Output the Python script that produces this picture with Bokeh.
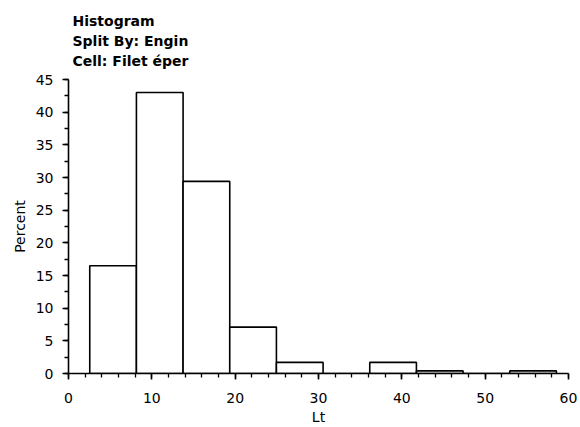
from bokeh.plotting import figure
from bokeh.models import Title, Range1d
from bokeh.embed import file_html
from bokeh.resources import INLINE

# Data
bin_left = [2.55, 8.15, 13.75, 19.35, 24.95, 30.55, 36.15, 41.75, 47.35, 52.95]
bin_right = [8.15, 13.75, 19.35, 24.95, 30.55, 36.15, 41.75, 47.35, 52.95, 58.55]
percent = [16.5, 43.0, 29.4, 7.1, 1.7, 0.0, 1.7, 0.4, 0.0, 0.4]
title_lines = ["Histogram", "Split By: Engin", "Cell: Filet éper"]
x_label = "Lt"
y_label = "Percent"

FONT = "DejaVu Sans"

p = figure(width=580, height=427, output_backend="svg", toolbar_location=None,
           x_range=Range1d(0, 60), y_range=Range1d(0, 45),
           min_border_left=68, min_border_right=12, min_border_top=79, min_border_bottom=53)
p.outline_line_color = None
p.grid.grid_line_color = None
p.background_fill_color = "white"
p.border_fill_color = "white"

p.quad(left=bin_left, right=bin_right, bottom=0, top=percent,
       fill_color="white", line_color="black", line_width=1.6)

for ax in (p.xaxis, p.yaxis):
    ax.axis_line_width = 1.6
    ax.axis_line_color = "black"
    ax.major_tick_line_width = 1.6
    ax.minor_tick_line_width = 1.3
    ax.major_tick_out = 6
    ax.major_tick_in = 0
    ax.minor_tick_out = 4
    ax.minor_tick_in = 0
    ax.major_label_text_font = FONT
    ax.major_label_text_font_size = "14px"
    ax.major_label_text_color = "black"
    ax.axis_label_text_font = FONT
    ax.axis_label_text_font_size = "14px"
    ax.axis_label_text_font_style = "normal"
    ax.axis_label_text_color = "black"

p.xaxis.ticker.desired_num_ticks = 6
p.xaxis.ticker.num_minor_ticks = 5
p.yaxis.ticker.desired_num_ticks = 9
p.yaxis.ticker.num_minor_ticks = 2
p.xaxis.axis_label = x_label
p.yaxis.axis_label = y_label
p.xaxis.major_label_standoff = 13
p.xaxis.axis_label_standoff = 3
p.yaxis.major_label_standoff = 9
p.yaxis.axis_label_standoff = 5

# small spacer between frame and the title block
p.add_layout(Title(text=" ", text_font_size="1px", standoff=7), "above")

# Title lines stacked above the frame (later added = further up)
for txt in reversed(title_lines):
    p.add_layout(Title(text=txt, text_font=FONT, text_font_size="14px",
                       text_font_style="bold", text_color="black",
                       align="left", offset=4, standoff=2), "above")

open("out.html", "w").write(file_html(p, INLINE))
